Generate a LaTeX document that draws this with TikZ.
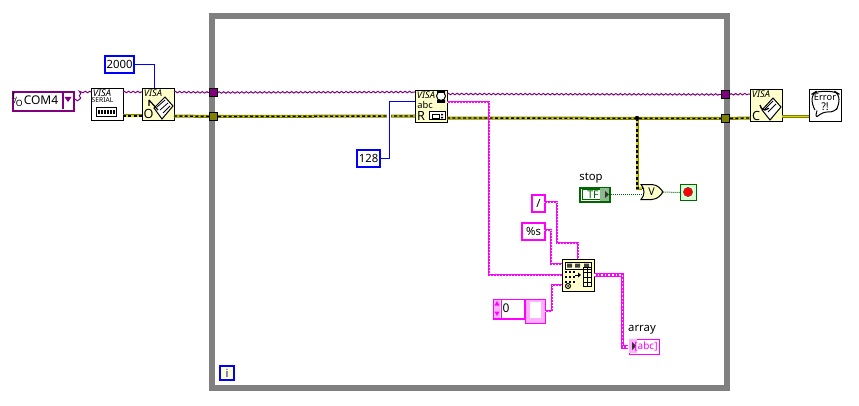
\documentclass[tikz,border=0pt]{standalone}
\usepackage{fontspec}
\setmainfont{Noto Sans}
\usetikzlibrary{calc,decorations.pathmorphing}
\definecolor{visapurple}{HTML}{800080}
\definecolor{errolive}{HTML}{7F7F00}
\definecolor{errdot}{HTML}{D8D800}
\definecolor{strpink}{HTML}{FF00FF}
\definecolor{palepink}{HTML}{FFB0FF}
\definecolor{numblue}{HTML}{0000FF}
\definecolor{boolgreen}{HTML}{006600}
\definecolor{iconyellow}{HTML}{FFFFCC}
\definecolor{loopgrey}{HTML}{808080}
\tikzset{
  box/.style={draw,anchor=north west,inner sep=0pt,font=\fontsize{8.5}{10}\selectfont},
  numbox/.style={box,draw=numblue,line width=1.5pt,fill=white},
  strbox/.style={box,draw=strpink,line width=1.75pt,fill=white},
  icon/.style={draw=black,line width=.75pt,fill=iconyellow,anchor=north west,minimum size=24pt,inner sep=0pt},
  icontext/.style={inner sep=0pt,font=\fontsize{7}{7}\selectfont\itshape},
  iconbold/.style={inner sep=0pt,font=\fontsize{9.5}{9.5}\selectfont\bfseries},
  tunnel/.style={draw=black,line width=.75pt,minimum size=6pt,inner sep=0pt},
  label/.style={inner sep=0pt,font=\fontsize{8.5}{9}\selectfont},
  visawire/.style={draw=visapurple,line width=.75pt,decorate,decoration={zigzag,segment length=3.4pt,amplitude=.55pt}},
  errwire/.style={draw=errolive,line width=2.25pt,postaction={draw=errdot,line width=1pt},
    postaction={draw=black,line width=1pt,dash pattern=on 2.25pt off 1.75pt}},
  errplain/.style={draw=errolive,line width=2.25pt,postaction={draw=errdot,line width=.75pt}},
  numwire/.style={draw=numblue,line width=.75pt,preaction={draw=white,line width=3.5pt}},
  strwire/.style={draw=strpink,line width=1.5pt,postaction={draw=white,line width=.4pt,dash pattern=on .75pt off 1.5pt}},
  strthick/.style={draw=strpink,line width=2.5pt,postaction={draw=white,line width=.8pt,dash pattern=on 1.2pt off 1.5pt}},
  boolwire/.style={draw=boolgreen,line width=.75pt,dash pattern=on .75pt off .75pt},
}
\begin{document}
\begin{tikzpicture}[x=0.75pt,y=-0.75pt,>=latex]
\useasboundingbox[fill=white] (0,0) rectangle (859,406);

% loop frame
\draw[draw=loopgrey,line width=4.5pt] (212,16.5)--(727,16.5)--(727,388)--(212,388)--cycle;
\node (iter) at (219,365) [box,draw=numblue,line width=1.5pt,fill=iconyellow,minimum size=10.5pt,text=numblue] {\bfseries i};

% terminals
\node (comfour) at (12,91) [box,draw=visapurple,line width=1.5pt,fill=white,minimum width=46pt,minimum height=14pt,align=left] {};
\draw[draw=visapurple,line width=1.5pt] (63,91)--(63,109);
\fill[visapurple] (64.5,97)--(71.5,97)--(68,102)--cycle;
\node (comio) at (17.5,100) [inner sep=0pt,font=\fontsize{6.5}{6.5}\selectfont] {\raisebox{2.5pt}{I}\kern-1pt/\kern-1pt\raisebox{-2.5pt}{O}};
\node (comname) at (41,100) [inner sep=0pt,font=\fontsize{9}{10}\selectfont] {COM4};
\node (timeout) at (104,55) [numbox,minimum width=22pt,minimum height=12.5pt] {2000};
\node (count) at (356,149) [numbox,minimum width=17.5pt,minimum height=12.5pt] {128};

% VISA nodes
\node (serial) at (91,88) [icon,fill=white] {};
\node (serialname) at (102,93) [icontext] {VISA};
\node (serialtag) at (102.5,100.5) [inner sep=0pt,font=\fontsize{5}{5}\selectfont\bfseries] {SERIAL};
\draw[line width=.75pt] (96,108) rectangle (116,117);
\foreach \x in {98,101,...,113} \fill (\x,110.5) rectangle (\x+2,114.5);

\node (open) at (142,88) [icon] {};
\node (openname) at (153,93) [icontext] {VISA};
\node (opentag) at (148.5,114) [iconbold] {O};
\draw[line width=.75pt,fill=white] (154,108)--(165,97)--(173,106)--(162,119)--cycle;
\draw[line width=.6pt] (157,107)--(165,100) (160,110)--(168,103) (163,113)--(170,106);
\draw[line width=.9pt] (149,100)--(158,110) (149,100)--(149,106);

\node (read) at (415,90) [icon] {};
\node (readname) at (426,95) [icontext] {VISA};
\node (readabc) at (425,105) [inner sep=0pt,font=\fontsize{7}{7}\selectfont] {abc};
\node (readtag) at (421,116) [iconbold] {R};
\draw[line width=.75pt,fill=white] (441,96) circle (4.5);
\fill (437,91) rectangle (445,93) (437,100) rectangle (445,103);
\draw[line width=.75pt,fill=white] (429,112) rectangle (445,120);
\draw[line width=.6pt] (432,114) rectangle (439,118);
\fill (441,114) rectangle (443,115.5) (441,117) rectangle (443,118.5);

\node (close) at (750,89) [icon] {};
\node (closename) at (761,94) [icontext] {VISA};
\node (closetag) at (756,116) [iconbold] {C};
\draw[line width=.75pt,fill=white] (762,110)--(773,98)--(781,107)--(770,120)--cycle;
\draw[line width=.6pt] (765,109)--(773,101) (768,112)--(776,104);
\draw[line width=1pt] (760,105) arc (180:40:5);

\node (error) at (809,89) [icon,fill=white] {};
\draw[line width=.75pt,rounded corners=4pt] (815,110)--(812,105)--(812,94)--(816,91.5)--(835,91.5)--(839,94)--(839,105)--(835,112)--(822,112)--(815,119)--(817,110.5);
\node (errtext) at (825,97.5) [inner sep=0pt,font=\fontsize{7}{7}\selectfont] {Error};
\node (errmark) at (825,107) [inner sep=0pt,font=\fontsize{8}{8}\selectfont\bfseries] {?!};

% tunnels
\node (tunpurpleL) at (213.5,92.5) [tunnel,fill=visapurple] {};
\node (tunoliveL) at (213.5,116.5) [tunnel,fill=errolive] {};
\node (tunpurpleR) at (725.5,94.5) [tunnel,fill=visapurple] {};
\node (tunoliveR) at (725.5,118.5) [tunnel,fill=errolive] {};

% wire ends
\coordinate (comout) at (74,100);
\coordinate (serialin) at (91,92);
\coordinate (serialout) at (123,92);
\coordinate (openin) at (142,92);
\coordinate (openout) at (174,92);
\coordinate (readin) at (415,92);
\coordinate (readout) at (447,94);
\coordinate (closein) at (750,94);
\coordinate (serialerr) at (123,116);
\coordinate (openerrin) at (142,116);
\coordinate (openerr) at (174,116);
\coordinate (readerrin) at (415,116);
\coordinate (readerr) at (447,118);
\coordinate (closeerrin) at (750,118);
\coordinate (closeerr) at (782,117);
\coordinate (errorin) at (809,117);
\coordinate (opentime) at (154.5,88);
\coordinate (readcount) at (415,102);
\coordinate (readstr) at (447,102);
\coordinate (branch) at (637,118);

% purple wires
\draw[visawire] (comout)-|(80,92)--(serialin);
\draw[visawire] (serialout)--(openin);
\draw[visawire] (openout)--(tunpurpleL);
\draw[visawire] (tunpurpleL)--(readin);
\draw[visawire] (readout)--(tunpurpleR);
\draw[visawire] (tunpurpleR)--(closein);

% error wires
\draw[errwire] (serialerr)--(openerrin);
\draw[errwire] (openerr)--(tunoliveL);
\draw[errwire] (tunoliveL)--(readerrin);
\draw[errwire] (readerr)--(tunoliveR);
\draw[errwire] (tunoliveR)--(closeerrin);
\draw[errplain] (closeerr)--(errorin);

% numeric wires
\draw[numwire] (timeout.east)-|(opentime);
\draw[numwire] (count.east)-|(389,102)--(readcount);

% lower diagram
\node (stoplabel) at (591,178) [label] {stop};
\node (stopctl) at (579,187) [box,draw=boolgreen,line width=1.5pt,fill=white,minimum width=22.5pt,minimum height=10.5pt] {};
\draw[draw=boolgreen,line width=.6pt] (582,189.5) rectangle (607,199);
\node (stoptext) at (593,194.5) [inner sep=0pt,font=\fontsize{8}{8}\selectfont\bfseries,text=boolgreen] {TF};
\fill[boolgreen!45] (600,188) rectangle (609,201);
\fill[black!80] (605,191)--(609,194.5)--(605,198)--cycle;

\node (orgate) at (651,192) [minimum width=15pt,minimum height=11pt,inner sep=0pt] {};
\draw[line width=.75pt,fill=iconyellow] (641,184.5)--(652,184.5) .. controls (658,185) and (661,189) .. (663,192)
  .. controls (661,195) and (658,199) .. (652,199.5)--(641,199.5) .. controls (645,195) and (645,189) .. (641,184.5)--cycle;
\node (ortext) at (651.5,192) [inner sep=0pt,font=\fontsize{8}{8}\selectfont\bfseries] {V};

\node (stopind) at (680,184) [box,draw=boolgreen,line width=.75pt,fill=iconyellow!40!green!25,minimum size=12pt] {};
\node (stopdot) at (688,192) [circle,draw=black!70,line width=.3pt,fill=red,minimum size=7pt,inner sep=0pt] {};

\coordinate (orerr) at (642,188);
\coordinate (orstop) at (642,194);
\draw[errwire] (branch)|-(orerr);
\fill (branch) circle (2.2);
\draw[boolwire] (stopctl.east|-orstop)--(orstop);
\draw[boolwire] (orgate.east)--(stopind.west);

\node (slash) at (531,194) [strbox,minimum width=9.5pt,minimum height=12.5pt] {/};
\node (fmt) at (521,222) [strbox,minimum width=17pt,minimum height=12.5pt] {\%s};

\node (concat) at (562,259) [icon] {};
\draw[line width=.75pt] (565,262) rectangle (591,269);
\fill[black!75] (567,263.5) rectangle (572,267.5) (575,263.5) rectangle (580,267.5) (584,263.5) rectangle (589,267.5);
\foreach \y in {272,277,282}
  \foreach \x in {565,569,573} \fill (\x,\y-1) rectangle (\x+2,\y+1);
\draw[line width=.75pt] (568,286) circle (2.5);
\fill (568,286) circle (1);
\draw[line width=.75pt] (575,275)--(579,275);
\fill (578,272.5)--(581,275)--(578,277.5)--cycle;
\draw[line width=.75pt] (583,267.5) rectangle (591,286);
\draw[line width=.6pt] (587,267.5)--(587,286) (583,272)--(591,272) (583,277)--(591,277) (583,282)--(591,282);

\node (numzero) at (493,299) [box,draw=strpink,line width=.9pt,fill=white,minimum width=23.5pt,minimum height=14.5pt] {};
\fill[palepink] (494,299.5) rectangle (500,317.5);
\draw[draw=strpink,line width=.6pt] (501,299)--(501,318);
\fill[strpink] (497,301)--(494.5,305.5)--(499.5,305.5)--cycle (497,316)--(494.5,311.5)--(499.5,311.5)--cycle;
\node (zerotext) at (506,308) [inner sep=0pt,font=\fontsize{9}{9}\selectfont] {0};
\node (arrzero) at (525,298.5) [box,draw=strpink,line width=.9pt,fill=palepink,minimum width=15pt,minimum height=18pt] {};
\fill[white] (530,302) rectangle (541,318);

\coordinate (slashout) at (544,202);
\coordinate (fmtout) at (544,230);
\coordinate (arrout) at (545,311);
\coordinate (concatdelim) at (578,259);
\coordinate (concatfmt) at (562,264);
\coordinate (concatstr) at (562,275);
\coordinate (concatoff) at (562,285);
\coordinate (concatarr) at (594,275);
\coordinate (arrayin) at (628,347);

\draw[strwire] (readstr)-|(489,275)--(concatstr);
\draw[strwire] (slashout)-|(557,243)-|(concatdelim);
\draw[strwire] (fmtout)-|(551,264)--(concatfmt);
\draw[strwire] (arrout)-|(552,285)--(concatoff);
\draw[strthick] (concatarr)-|(622.5,347)--(arrayin);

\node (arraylabel) at (642,330) [label] {array};
\node (arrayind) at (628.5,338.5) [box,draw=strpink,line width=.75pt,fill=white,minimum width=23pt,minimum height=11.5pt] {};
\fill[palepink] (629,339) rectangle (637,353);
\fill[black!80] (632,342)--(636,346)--(632,350)--cycle;
\node (arraytext) at (646,346.5) [inner sep=0pt,text=strpink,font=\fontsize{7.5}{7.5}\selectfont\bfseries] {[abc]};

\end{tikzpicture}
\end{document}
